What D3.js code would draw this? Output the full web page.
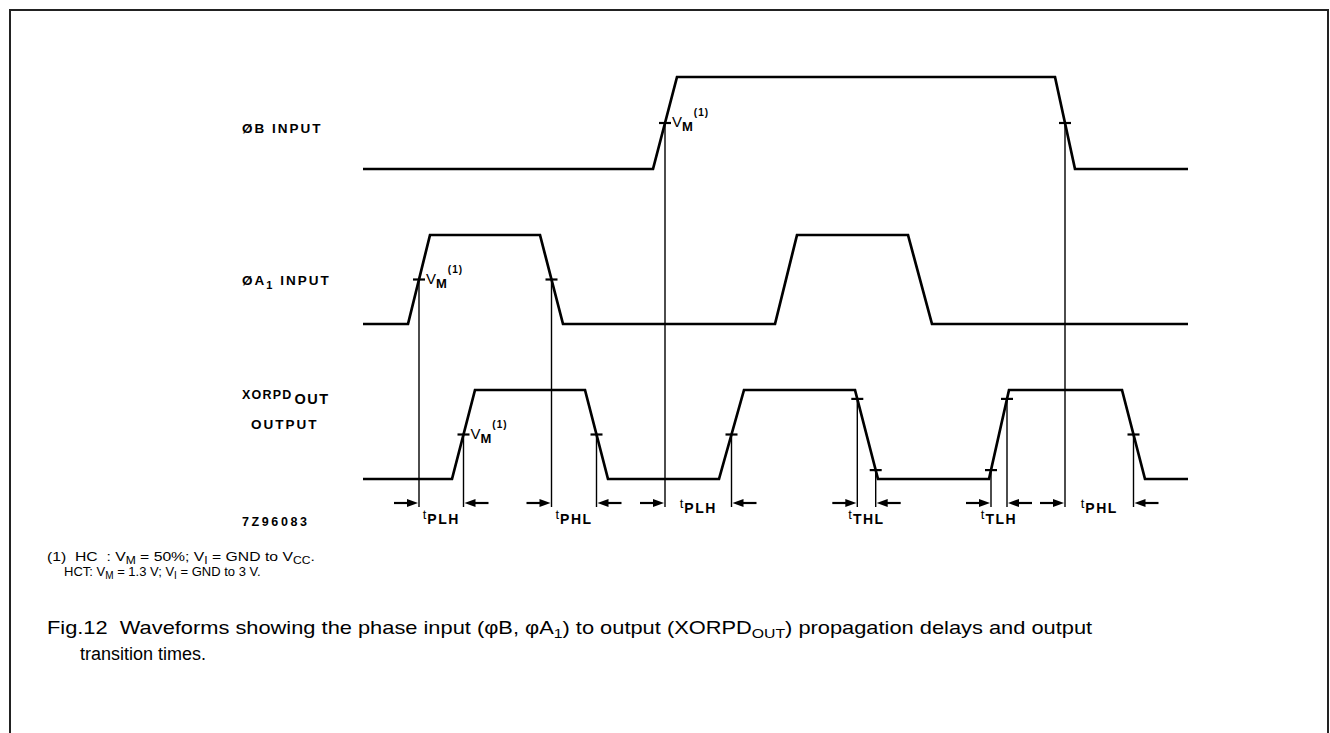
<!DOCTYPE html>
<html><head><meta charset="utf-8">
<script src="https://cdn.jsdelivr.net/npm/d3@7"></script>
<style>
html,body{margin:0;padding:0;background:#fff;}
svg{display:block;}
text{white-space:pre;}
.lbl{font-family:"Liberation Sans",Arial,sans-serif;font-weight:bold;font-size:13.5px;letter-spacing:2px;fill:#000;}
.note{font-family:"Liberation Sans",Arial,sans-serif;font-size:13px;fill:#000;}
.cap{font-family:"Liberation Sans",Arial,sans-serif;font-size:18px;fill:#000;}
</style></head><body>
<script>
// ---- data ----
const signalNames = ["ØB", "ØA", "XORPD"];
// waveform breakpoints (time units) and logic levels (0 = low, 1 = high)
const timesB   = [0, 290, 314, 692, 712, 825];
const levelsB  = [0, 0, 1, 1, 0, 0];
const timesA1  = [0, 45, 67, 177, 200, 412, 434, 545, 569, 825];
const levelsA1 = [0, 0, 1, 1, 0, 0, 1, 1, 0, 0];
const timesX   = [0, 89, 112, 222, 245, 356, 381, 492, 515, 626, 646, 759, 782, 825];
const levelsX  = [0, 0, 1, 1, 0, 0, 1, 1, 0, 0, 1, 1, 0, 0];
// measurement markers: signal index, time, fraction of swing
const markSignal = [0, 0, 1, 1, 2, 2, 2, 2, 2, 2, 2, 2];
const markTime   = [302, 702, 56, 188.5, 100.5, 233.5, 368.5, 494.3, 512.7, 628, 644, 770.5];
const markLevel  = [0.5, 0.5, 0.5, 0.5, 0.5, 0.5, 0.5, 0.9, 0.1, 0.1, 0.9, 0.5];
const vmMarks    = [0, 2, 4];            // markers annotated with V_M(1)
// timing intervals: from marker, to marker, label subscript
const intFrom  = [2, 3, 0, 7, 9, 1];
const intTo    = [4, 5, 6, 8, 10, 11];
const intLabel = ["PLH", "PHL", "PLH", "THL", "TLH", "PHL"];

// ---- layout ----
const W = 1330, H = 733;
const svg = d3.select("body").append("svg").attr("width", W).attr("height", H);
svg.append("rect").attr("x", 10).attr("y", 10).attr("width", 1318).attr("height", 800)
  .attr("fill", "none").attr("stroke", "#222").attr("stroke-width", 2);

const x = d3.scaleLinear().domain([0, 825]).range([363, 1188]);
const yScales = [
  d3.scaleLinear().domain([0, 1]).range([169, 77]),
  d3.scaleLinear().domain([0, 1]).range([324, 235]),
  d3.scaleLinear().domain([0, 1]).range([479, 390])
];
const series = [
  d3.zip(timesB, levelsB),
  d3.zip(timesA1, levelsA1),
  d3.zip(timesX, levelsX)
];
const arrowY = 503, vBottom = 507;
const FF = "Liberation Sans,Arial,sans-serif";

// vertical reference lines
markTime.forEach((t, i) => {
  const y = yScales[markSignal[i]];
  svg.append("line").attr("x1", x(t)).attr("x2", x(t))
    .attr("y1", y(markLevel[i])).attr("y2", vBottom)
    .attr("stroke", "#000").attr("stroke-width", 1.4);
});

// waveforms
series.forEach((s, i) => {
  const line = d3.line().x(d => x(d[0])).y(d => yScales[i](d[1]));
  svg.append("path").attr("d", line(s)).attr("fill", "none")
    .attr("stroke", "#000").attr("stroke-width", 2.7).attr("stroke-linejoin", "miter");
});

// marker ticks
markTime.forEach((t, i) => {
  const y = yScales[markSignal[i]](markLevel[i]);
  svg.append("line").attr("x1", x(t) - 6).attr("x2", x(t) + 6)
    .attr("y1", y).attr("y2", y).attr("stroke", "#000").attr("stroke-width", 2.2);
});

// V_M labels
vmMarks.forEach(i => {
  const t = markTime[i];
  const y = yScales[markSignal[i]](markLevel[i]);
  const tx = svg.append("text").attr("x", x(t) + 7).attr("y", y + 4)
    .style("font-family", FF).style("fill", "#000");
  tx.append("tspan").text("V").style("font-size", "15px");
  tx.append("tspan").text("M").attr("dy", 4).style("font-size", "13px").style("font-weight", "bold");
  tx.append("tspan").text("(1)").attr("dx", 1).attr("dy", -15).style("font-size", "10px")
    .style("font-weight", "bold").style("letter-spacing", "1px");
});

// arrows
function arrow(xt, dir) {
  svg.append("line").attr("x1", xt - dir * 24).attr("x2", xt - dir * 6)
    .attr("y1", arrowY).attr("y2", arrowY).attr("stroke", "#000").attr("stroke-width", 2.2);
  svg.append("path")
    .attr("d", `M${xt},${arrowY} L${xt - dir * 11},${arrowY - 4} L${xt - dir * 11},${arrowY + 4} Z`)
    .attr("fill", "#000");
}
intFrom.forEach((a, k) => {
  const x1 = x(markTime[a]), x2 = x(markTime[intTo[k]]);
  arrow(x1 - 1, 1);
  arrow(x2 + 1, -1);
  const cx = (x1 + x2) / 2;
  const wide = (x2 - x1) > 60;
  const by = wide ? 508 : 519;
  const tx = svg.append("text").attr("x", cx).attr("y", by).attr("text-anchor", "middle")
    .style("font-family", FF).style("fill", "#000");
  tx.append("tspan").text("t").style("font-size", "13px");
  tx.append("tspan").text(intLabel[k]).attr("dx", 1).attr("dy", 5).style("font-size", "14px")
    .style("font-weight", "bold").style("letter-spacing", "1.5px");
});

// signal labels
svg.append("text").attr("class", "lbl").attr("x", 242).attr("y", 133).text(signalNames[0] + " INPUT");
const la = svg.append("text").attr("class", "lbl").attr("x", 242).attr("y", 285);
la.append("tspan").text(signalNames[1]);
la.append("tspan").text("1").attr("dy", 4).style("font-size", "11px");
la.append("tspan").text(" INPUT").attr("dy", -4);
const lx = svg.append("text").attr("class", "lbl").attr("x", 242).attr("y", 399);
lx.append("tspan").text(signalNames[2]).style("font-size", "12.5px").style("letter-spacing", "1.2px");
lx.append("tspan").text("OUT").attr("dx", 2).attr("dy", 5).style("font-size", "14.5px").style("letter-spacing", "1.5px");
svg.append("text").attr("class", "lbl").attr("x", 251).attr("y", 429).text("OUTPUT");
svg.append("text").attr("class", "lbl").attr("x", 242).attr("y", 526)
  .style("font-size", "12.5px").style("letter-spacing", "2.6px").text("7Z96083");

// stretch a text element horizontally to a target right edge
function fitTo(sel, x0, xEnd) {
  const w = sel.node().getComputedTextLength();
  const sx = (xEnd - x0) / w;
  sel.attr("transform", `translate(${x0},0) scale(${sx},1) translate(${-x0},0)`);
}

// footnote
function sub(t, s, dy) { t.append("tspan").text(s).attr("dy", dy).style("font-size", "10px"); }
const n1 = svg.append("text").attr("class", "note").attr("x", 47).attr("y", 561);
n1.append("tspan").text("(1)  HC  : V");
sub(n1, "M", 3);
n1.append("tspan").text(" = 50%; V").attr("dy", -3);
sub(n1, "I", 3);
n1.append("tspan").text(" = GND to V").attr("dy", -3);
sub(n1, "CC", 3);
n1.append("tspan").text(".").attr("dy", -3);
fitTo(n1, 47, 315);
const n2 = svg.append("text").attr("class", "note").attr("x", 64).attr("y", 576);
n2.append("tspan").text("HCT: V");
sub(n2, "M", 3);
n2.append("tspan").text(" = 1.3 V; V").attr("dy", -3);
sub(n2, "I", 3);
n2.append("tspan").text(" = GND to 3 V.").attr("dy", -3);

// caption
const c1 = svg.append("text").attr("class", "cap").attr("x", 47).attr("y", 634);
c1.append("tspan").text("Fig.12  Waveforms showing the phase input (φB, φA");
c1.append("tspan").text("1").attr("dy", 4).style("font-size", "13px");
c1.append("tspan").text(") to output (XORPD").attr("dy", -4);
c1.append("tspan").text("OUT").attr("dy", 4).style("font-size", "13px");
c1.append("tspan").text(") propagation delays and output").attr("dy", -4);
fitTo(c1, 47, 1093);
svg.append("text").attr("class", "cap").attr("x", 80).attr("y", 660).text("transition times.");
</script>
</body></html>
